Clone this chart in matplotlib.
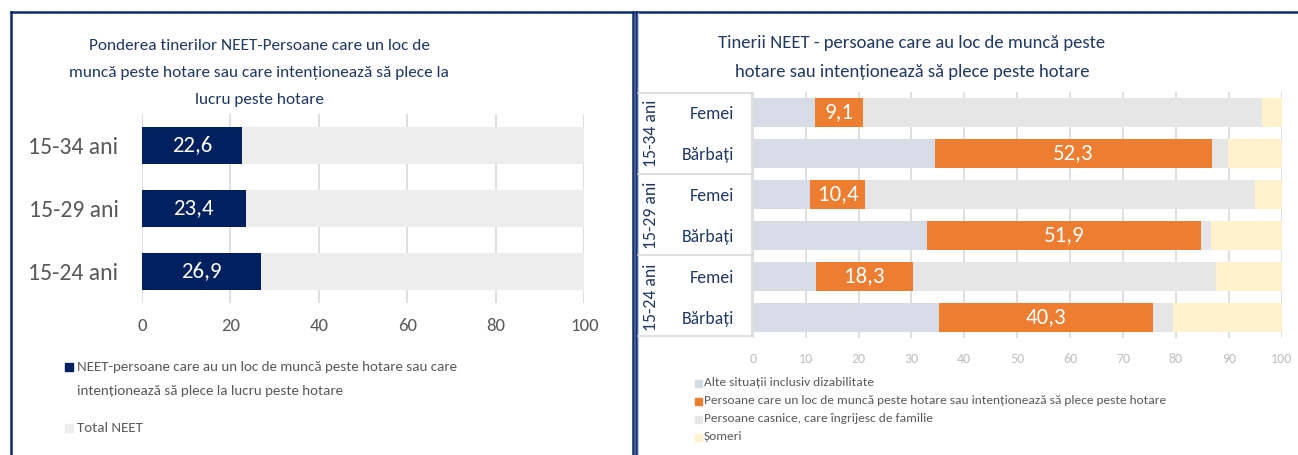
import matplotlib
matplotlib.use("Agg")
import matplotlib.pyplot as plt
from matplotlib.patches import Rectangle
from matplotlib.lines import Line2D

plt.rcParams['font.family'] = ['Carlito', 'DejaVu Sans']

# ---------------- data ----------------
left_title = ["Ponderea tinerilor NEET-Persoane care un loc de",
              "muncă peste hotare sau care intenționează să plece la",
              "lucru peste hotare"]
left_cats = ["15-34 ani", "15-29 ani", "15-24 ani"]
left_neet_abroad = [22.6, 23.4, 26.9]
left_total = [100, 100, 100]
left_ticks = [0, 20, 40, 60, 80, 100]
left_legend_1 = ["NEET-persoane care au un loc de muncă peste hotare sau care",
                 "intenționează să plece la lucru peste hotare"]
left_legend_2 = "Total NEET"

right_title = ["Tinerii NEET - persoane care au loc de muncă peste",
               "hotare sau intenționează să plece peste hotare"]
groups = ["15-34 ani", "15-29 ani", "15-24 ani"]
sexes = ["Femei", "Bărbați", "Femei", "Bărbați", "Femei", "Bărbați"]
alte = [11.8, 34.5, 10.9, 32.9, 12.0, 35.3]
abroad = [9.1, 52.3, 10.4, 51.9, 18.3, 40.3]
casnice = [75.3, 3.0, 73.6, 1.8, 57.3, 3.8]
someri = [3.8, 10.2, 5.1, 13.4, 12.4, 20.6]
right_ticks = [0, 10, 20, 30, 40, 50, 60, 70, 80, 90, 100]
right_legend = ["Alte situații inclusiv dizabilitate",
                "Persoane care un loc de muncă peste hotare sau intenționează să plece peste hotare",
                "Persoane casnice, care îngrijesc de familie",
                "Șomeri"]

# ---------------- style ----------------
W, H = 1298, 455
NAVY = "#002060"
TITLE_C = "#1F3864"
BORDER_C = "#0F2C6C"
GRID_C = "#D9D9D9"
TXT_GRAY = "#595959"
C_TOTAL = "#EDEDED"
C_ALTE = "#D6DCE5"
C_ABROAD = "#ED7D31"
C_CASNICE = "#E6E6E6"
C_SOMERI = "#FFF2CC"

fig = plt.figure(figsize=(W / 100, H / 100), dpi=100)

def fx(x):
    return x / W

def fy(y):
    return 1 - y / H

# panel borders
for xs, ys in [([11, 633], [12, 12]), ([633, 633], [12, H]), ([11, 11], [12, H]),
               ([636, 636], [12, H]), ([636, W], [12, 12])]:
    fig.add_artist(Line2D([fx(xs[0]), fx(xs[1])], [fy(ys[0]), fy(ys[1])],
                          color=BORDER_C, lw=1.8, transform=fig.transFigure))
fig.add_artist(Line2D([fx(638.2), fx(638.2)], [fy(13), fy(H)], color="#B4C7E7", lw=0.8,
                      transform=fig.transFigure))

# ---------------- left chart ----------------
axL = fig.add_axes([fx(142), fy(302.8), fx(584.5 - 142), (302.8 - 113.8) / H])
yl = list(range(len(left_cats)))
axL.barh(yl, left_total, height=0.58, color=C_TOTAL, zorder=2)
axL.barh(yl, left_neet_abroad, height=0.58, color=NAVY, zorder=3)
for y, v in zip(yl, left_neet_abroad):
    axL.text(v / 2, y, f"{v:.1f}".replace(".", ","), ha="center", va="center",
             color="white", fontsize=16.5, zorder=4)
axL.set_xlim(0, 100)
axL.set_ylim(len(left_cats) - 0.5, -0.5)
axL.set_xticks(left_ticks)
axL.set_xticklabels([str(t) for t in left_ticks])
axL.set_yticks(yl)
axL.set_yticklabels(left_cats)
axL.tick_params(axis="x", length=0, pad=11, labelsize=13.5, labelcolor=TXT_GRAY)
axL.tick_params(axis="y", length=0, pad=17, labelsize=17, labelcolor=TXT_GRAY)
for s in axL.spines.values():
    s.set_visible(False)
axL.grid(axis="x", color=GRID_C, lw=1.2, zorder=0)
axL.set_axisbelow(True)

for i, line in enumerate(left_title):
    fig.text(fx(259), fy(46 + 27 * i), line, ha="center", va="center",
             color=TITLE_C, fontsize=12.4)

# left legend
fig.add_artist(Rectangle((fx(64.5), fy(370.5)), fx(8), 8 / H, color=NAVY, transform=fig.transFigure))
for i, line in enumerate(left_legend_1):
    fig.text(fx(77), fy(367 + 24 * i), line, ha="left", va="center", color=TXT_GRAY,
             fontsize=10.8)
fig.add_artist(Rectangle((fx(64.5), fy(432)), fx(8), 8 / H, color=C_TOTAL, transform=fig.transFigure))
fig.text(fx(77), fy(428), left_legend_2, ha="left", va="center", color=TXT_GRAY, fontsize=10.8)

# ---------------- right chart ----------------
axR = fig.add_axes([fx(752.7), fy(338), fx(1281.7 - 752.7), 246 / H])
yr = list(range(len(sexes)))
left_acc = [0] * len(sexes)
for vals, col in [(alte, C_ALTE), (abroad, C_ABROAD), (casnice, C_CASNICE), (someri, C_SOMERI)]:
    axR.barh(yr, vals, left=left_acc, height=0.71, color=col, zorder=2)
    left_acc = [a + b for a, b in zip(left_acc, vals)]
for y, a, v in zip(yr, alte, abroad):
    axR.text(a + v / 2, y, f"{v:.1f}".replace(".", ","), ha="center", va="center",
             color="white", fontsize=16.5, zorder=4)
axR.set_xlim(0, 100)
axR.set_ylim(len(sexes) - 0.5, -0.5)
axR.set_xticks(right_ticks)
axR.set_xticklabels([str(t) for t in right_ticks])
axR.set_yticks(yr)
axR.set_yticklabels(sexes)
axR.tick_params(axis="x", length=0, pad=11, labelsize=10, labelcolor="#BFBFBF")
axR.tick_params(axis="y", length=0, pad=13.5, labelsize=12.8, labelcolor=TITLE_C)
for s in axR.spines.values():
    s.set_visible(False)
axR.grid(axis="x", color=GRID_C, lw=1.2, zorder=0)
axR.set_axisbelow(True)

# multi-level category box
for yb in [92.7, 174, 254.7, 336]:
    fig.add_artist(Line2D([fx(638), fx(752.7)], [fy(yb), fy(yb)], color=GRID_C, lw=1.2,
                          transform=fig.transFigure))
fig.add_artist(Line2D([fx(751.5), fx(751.5)], [fy(92.7), fy(336)], color=GRID_C, lw=1.2,
                      transform=fig.transFigure))
for i, g in enumerate(groups):
    axR.text(-0.192, 2 * i + 0.5, g, transform=axR.get_yaxis_transform(),
             rotation=90, ha="center", va="center", color=TITLE_C, fontsize=12.8)

for i, line in enumerate(right_title):
    fig.text(fx(912), fy(43 + 29 * i), line, ha="center", va="center",
             color=TITLE_C, fontsize=13.4)

# right legend
for i, (lab, col) in enumerate(zip(right_legend, [C_ALTE, C_ABROAD, C_CASNICE, C_SOMERI])):
    yc = 383 + 18 * i
    fig.add_artist(Rectangle((fx(694.5), fy(yc + 3.5)), fx(7), 7 / H, color=col,
                             transform=fig.transFigure))
    fig.text(fx(704), fy(yc), lab, ha="left", va="center", color=TXT_GRAY, fontsize=9.6)

fig.savefig("out.png", dpi=100)
